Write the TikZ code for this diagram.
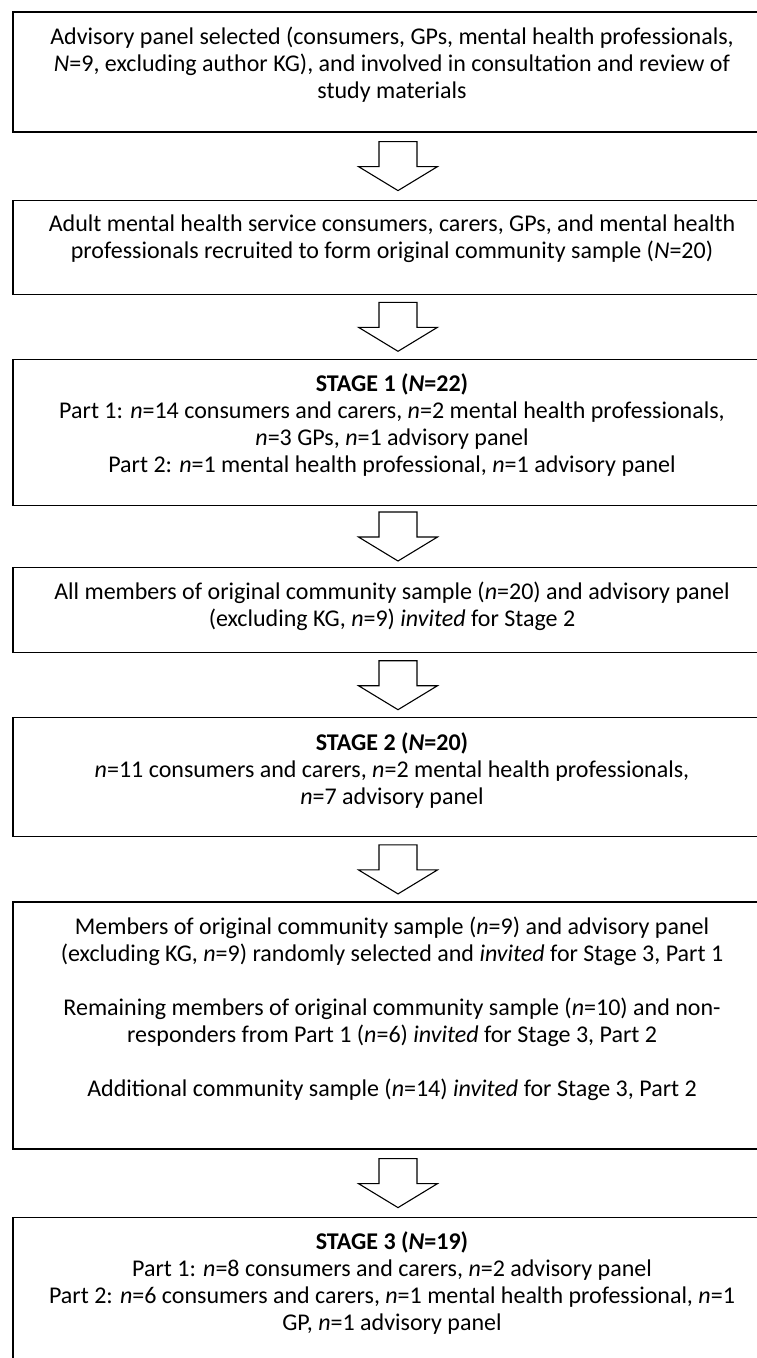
\documentclass[tikz,border=0pt]{standalone}
\usepackage{fontspec}
\setmainfont{Carlito}
\usetikzlibrary{positioning,calc}

\tikzset{
    box/.style={draw, line width=1.2pt, minimum width=758pt, inner sep=0pt},
    boxtext/.style={anchor=north, align=center, inner sep=0pt,
        font=\fontsize{24}{27}\selectfont},
    pics/downarrow/.style={code={
        \draw[line width=1.1pt, line join=miter]
            (-19,0) -- (19,0) -- (19,-25) -- (39.5,-25) -- (0,-49)
            -- (-39.5,-25) -- (-19,-25) -- cycle;
    }},
}

\begin{document}
\begin{tikzpicture}[x=1pt, y=1pt]
    \useasboundingbox (0,0) rectangle (757,-1358);

    % the seven boxes, top to bottom
    \node[box, minimum height=120pt] (adv) at (392,-72) {};
    \node[box, minimum height=94pt, below=67pt of adv] (recruit) {};
    \node[box, minimum height=146pt, below=64pt of recruit] (stage1) {};
    \node[box, minimum height=85pt, below=61pt of stage1] (invite2) {};
    \node[box, minimum height=119pt, below=64pt of invite2] (stage2) {};
    \node[box, minimum height=247pt, below=64pt of stage2] (invite3) {};
    \node[box, minimum height=170pt, below=67pt of invite3] (stage3) {};

    % texts
    \node[boxtext] (adv-t) at ($(adv.north)+(0,-15)$)
        {Advisory panel selected (consumers, GPs, mental health professionals,\\
         \textit{N}=9, excluding author KG), and involved in consultation and review of\\
         study materials};
    \node[boxtext] (recruit-t) at ($(recruit.north)+(0,-15)$)
        {Adult mental health service consumers, carers, GPs, and mental health\\
         professionals recruited to form original community sample (\textit{N}=20)};
    \node[boxtext] (stage1-t) at ($(stage1.north)+(0,-15)$)
        {\textbf{STAGE 1 (\textit{N}=22)}\\
         Part 1: \textit{n}=14 consumers and carers, \textit{n}=2 mental health professionals,\\
         \textit{n}=3 GPs, \textit{n}=1 advisory panel\\
         Part 2: \textit{n}=1 mental health professional, \textit{n}=1 advisory panel};
    \node[boxtext] (invite2-t) at ($(invite2.north)+(0,-15)$)
        {All members of original community sample (\textit{n}=20) and advisory panel\\
         (excluding KG, \textit{n}=9) \textit{invited} for Stage 2};
    \node[boxtext] (stage2-t) at ($(stage2.north)+(0,-15)$)
        {\textbf{STAGE 2 (\textit{N}=20)}\\
         \textit{n}=11 consumers and carers, \textit{n}=2 mental health professionals,\\
         \textit{n}=7 advisory panel};
    \node[boxtext] (invite3-t) at ($(invite3.north)+(0,-15)$)
        {Members of original community sample (\textit{n}=9) and advisory panel\\
         (excluding KG, \textit{n}=9) randomly selected and \textit{invited} for Stage 3, Part 1\\[27pt]
         Remaining members of original community sample (\textit{n}=10) and non-\\
         responders from Part 1 (\textit{n}=6) \textit{invited} for Stage 3, Part 2\\[27pt]
         Additional community sample (\textit{n}=14) \textit{invited} for Stage 3, Part 2};
    \node[boxtext] (stage3-t) at ($(stage3.north)+(0,-15)$)
        {\textbf{STAGE 3 (\textit{N}=19)}\\
         Part 1: \textit{n}=8 consumers and carers, \textit{n}=2 advisory panel\\
         Part 2: \textit{n}=6 consumers and carers, \textit{n}=1 mental health professional, \textit{n}=1\\
         GP, \textit{n}=1 advisory panel};

    % block arrows between the boxes
    \pic at ($(adv.south)!0.5!(recruit.north)+(6,24.5)$) {downarrow};
    \pic at ($(recruit.south)!0.5!(stage1.north)+(6,24.5)$) {downarrow};
    \pic at ($(stage1.south)!0.5!(invite2.north)+(6,24.5)$) {downarrow};
    \pic at ($(invite2.south)!0.5!(stage2.north)+(6,24.5)$) {downarrow};
    \pic at ($(stage2.south)!0.5!(invite3.north)+(6,24.5)$) {downarrow};
    \pic at ($(invite3.south)!0.5!(stage3.north)+(6,24.5)$) {downarrow};
\end{tikzpicture}
\end{document}
